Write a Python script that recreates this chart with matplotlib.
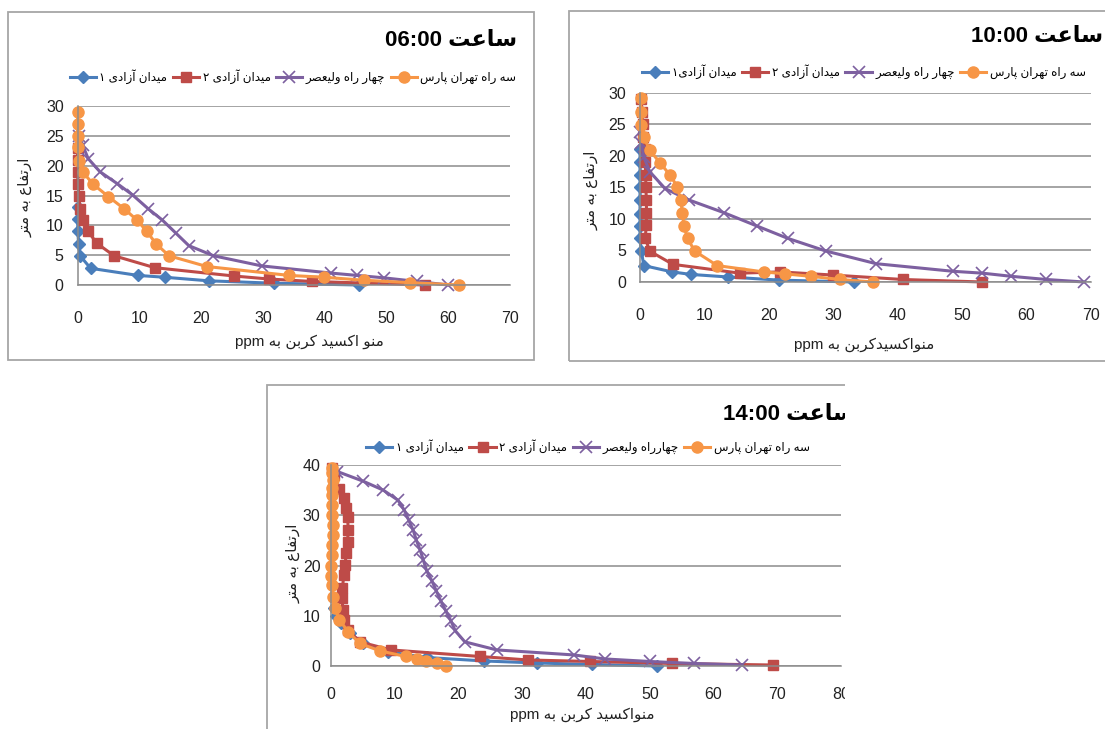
import matplotlib
matplotlib.use("Agg")
import matplotlib.pyplot as plt
from matplotlib.patches import Rectangle

plt.rcParams['font.family'] = ['Liberation Sans', 'DejaVu Sans']

# ---- data ----
series_names = ['میدان آزادی ۱', 'میدان آزادی ۲', 'چهار راه ولیعصر', 'سه راه تهران پارس']
series_names_10 = ['میدان آزادی۱', 'میدان آزادی ۲', 'چهار راه ولیعصر', 'سه راه تهران پارس']
series_names_14 = ['میدان آزادی ۱', 'میدان آزادی ۲', 'چهارراه ولیعصر', 'سه راه تهران پارس']

# 06:00
blue06_x = [45.5, 31.8, 21.2, 14.1, 9.8, 2.1, 0.4, 0.15, 0.05, 0.0, 0.0]
blue06_y = [0.0, 0.3, 0.7, 1.3, 1.6, 2.8, 4.9, 6.9, 9.0, 11.0, 13.0]
red06_x = [56.3, 37.9, 31.0, 25.4, 12.5, 5.9, 3.1, 1.7, 0.8, 0.4, 0.2, 0.05, 0.0, 0.0, 0.0]
red06_y = [0.0, 0.6, 1.0, 1.5, 2.9, 4.9, 7.0, 9.0, 10.9, 12.8, 15.0, 17.0, 19.0, 21.0, 23.0]
purple06_x = [60.0, 54.9, 49.6, 45.3, 41.0, 29.8, 22.0, 18.0, 15.9, 13.7, 11.4, 8.9, 6.4, 3.6, 1.7, 0.8, 0.2]
purple06_y = [0.0, 0.6, 1.2, 1.6, 2.0, 3.2, 4.9, 6.6, 8.7, 10.9, 12.8, 15.1, 17.0, 19.0, 21.2, 23.5, 25.0]
orange06_x = [61.8, 53.8, 46.3, 39.9, 34.3, 20.9, 14.8, 12.7, 11.2, 9.6, 7.5, 5.0, 2.5, 0.8, 0.3, 0.0, 0.0, 0.0, 0.0]
orange06_y = [0.0, 0.4, 0.8, 1.3, 1.6, 3.1, 4.9, 6.9, 9.0, 10.9, 12.8, 14.8, 16.9, 19.0, 20.7, 23.2, 24.9, 27.0, 29.0]

# 10:00
blue10_x = [33.2, 21.6, 13.6, 7.9, 5.0, 0.6, 0.2, 0.0, 0.0, 0.0, 0.0, 0.0, 0.0, 0.0, 0.0]
blue10_y = [0.0, 0.3, 0.8, 1.2, 1.6, 2.6, 4.9, 6.9, 8.9, 10.8, 13.0, 15.0, 17.0, 19.0, 21.0]
red10_x = [53.2, 40.8, 30.0, 21.8, 15.5, 5.1, 1.5, 0.8, 1.0, 1.0, 1.0, 0.9, 0.9, 0.8, 0.7, 0.5, 0.4, 0.3, 0.2]
red10_y = [0.0, 0.4, 1.1, 1.6, 1.4, 2.8, 4.9, 7.0, 9.0, 11.0, 13.0, 15.0, 17.0, 19.0, 21.0, 23.0, 25.0, 27.0, 29.0]
purple10_x = [69.0, 63.1, 57.7, 53.2, 48.6, 36.7, 28.9, 23.0, 18.1, 13.0, 7.6, 3.9, 1.5, 0.6, 0.2, 0.0]
purple10_y = [0.0, 0.4, 0.9, 1.4, 1.7, 2.9, 4.9, 6.9, 8.9, 11.0, 13.0, 14.8, 17.5, 19.8, 22.0, 23.8]
orange10_x = [36.2, 31.1, 26.5, 22.5, 19.2, 12.0, 8.5, 7.4, 6.8, 6.6, 6.3, 5.8, 4.7, 3.1, 1.5, 0.6, 0.2, 0.1, 0.1]
orange10_y = [0.0, 0.4, 0.9, 1.3, 1.6, 2.6, 4.9, 6.9, 8.9, 11.0, 13.0, 15.1, 16.9, 18.9, 20.9, 23.0, 24.9, 27.0, 29.1]

# 14:00
blue14_x = [51.2, 41.0, 32.3, 24.0, 15.0, 9.0, 5.0, 3.0, 1.5, 0.8, 0.5]
blue14_y = [0.0, 0.3, 0.6, 1.0, 1.7, 2.8, 4.5, 6.5, 8.5, 10.0, 11.5]
red14_x = [69.3, 53.5, 40.7, 30.9, 23.3, 9.4, 4.5, 2.7, 2.1, 1.9, 1.7, 1.8, 2.0, 2.2, 2.4, 2.6, 2.7, 2.6, 2.3, 2.0, 1.3, 0.4, 0.1]
red14_y = [0.2, 0.5, 0.9, 1.2, 1.9, 3.2, 4.8, 7.2, 9.2, 11.2, 13.5, 15.5, 18.1, 20.1, 22.4, 24.7, 27.1, 29.7, 31.4, 33.4, 35.3, 38.0, 39.5]
purple14_x = [64.5, 57.0, 50.0, 43.0, 38.1, 26.0, 21.0, 19.5, 18.8, 18.0, 17.2, 16.5, 15.8, 15.0, 14.5, 14.0, 13.4, 12.9, 12.2, 11.5, 10.5, 8.2, 5.0, 1.0]
purple14_y = [0.2, 0.5, 0.9, 1.4, 2.2, 3.2, 4.8, 7.0, 9.0, 11.0, 13.0, 15.0, 17.0, 19.0, 21.0, 23.0, 25.0, 27.0, 29.0, 31.0, 33.0, 35.0, 36.8, 38.7]
orange14_x = [18.1, 16.6, 14.9, 13.5, 11.7, 7.7, 4.5, 2.7, 1.3, 0.6, 0.3, 0.1, 0.0, 0.0, 0.1, 0.2, 0.3, 0.3, 0.2, 0.1, 0.1, 0.2, 0.3, 0.2, 0.1]
orange14_y = [0.0, 0.5, 0.9, 1.4, 1.9, 3.0, 4.5, 6.8, 9.2, 11.5, 13.8, 16.1, 18.0, 20.0, 22.0, 24.0, 26.0, 28.0, 30.0, 32.0, 34.0, 35.5, 37.0, 38.5, 39.5]

# ---- minimal persian shaping (matplotlib has no RTL layout) ----
FORMS = {
    '\u0627': ('\uFE8D', '\uFE8E', None, None),
    '\u0622': ('\uFE81', '\uFE82', None, None),
    '\u0628': ('\uFE8F', '\uFE90', '\uFE91', '\uFE92'),
    '\u067E': ('\uFB56', '\uFB57', '\uFB58', '\uFB59'),
    '\u062A': ('\uFE95', '\uFE96', '\uFE97', '\uFE98'),
    '\u0686': ('\uFB7A', '\uFB7B', '\uFB7C', '\uFB7D'),
    '\u062F': ('\uFEA9', '\uFEAA', None, None),
    '\u0631': ('\uFEAD', '\uFEAE', None, None),
    '\u0632': ('\uFEAF', '\uFEB0', None, None),
    '\u0633': ('\uFEB1', '\uFEB2', '\uFEB3', '\uFEB4'),
    '\u0635': ('\uFEB9', '\uFEBA', '\uFEBB', '\uFEBC'),
    '\u0639': ('\uFEC9', '\uFECA', '\uFECB', '\uFECC'),
    '\u0641': ('\uFED1', '\uFED2', '\uFED3', '\uFED4'),
    '\u06A9': ('\uFB8E', '\uFB8F', '\uFB90', '\uFB91'),
    '\u0644': ('\uFEDD', '\uFEDE', '\uFEDF', '\uFEE0'),
    '\u0645': ('\uFEE1', '\uFEE2', '\uFEE3', '\uFEE4'),
    '\u0646': ('\uFEE5', '\uFEE6', '\uFEE7', '\uFEE8'),
    '\u0647': ('\uFEE9', '\uFEEA', '\uFEEB', '\uFEEC'),
    '\u0648': ('\uFEED', '\uFEEE', None, None),
    '\u06CC': ('\uFBFC', '\uFBFD', '\uFBFE', '\uFBFF'),
}


def shape(word):
    word = word.replace('\u064A', '\u06CC').replace('\u0643', '\u06A9')
    out = []
    for i, ch in enumerate(word):
        f = FORMS.get(ch)
        if f is None:
            out.append(ch)
            continue
        prev = FORMS.get(word[i - 1]) if i > 0 else None
        nxt = FORMS.get(word[i + 1]) if i < len(word) - 1 else None
        jp = prev is not None and prev[2] is not None
        jn = nxt is not None and f[2] is not None
        if jp and jn:
            out.append(f[3])
        elif jn:
            out.append(f[2])
        elif jp:
            out.append(f[1])
        else:
            out.append(f[0])
    return ''.join(out)


def fa(text):
    vis = []
    for w in reversed(text.split(' ')):
        if any(c in FORMS or c in '\u064A\u0643' for c in w):
            vis.append(shape(w)[::-1])
        else:
            vis.append(w)
    return ' '.join(vis)


# ---- layout helpers (pixels -> figure fraction) ----
W, H = 1105, 729
fig = plt.figure(figsize=(W / 100, H / 100), dpi=100)


def fx(x):
    return x / W


def fy(y):
    return 1 - y / H


colors = ['#4A7EBB', '#BE4B48', '#7D60A0', '#F79646']
styles = [dict(marker='D', ms=6.5),
          dict(marker='s', ms=7.5),
          dict(marker='x', ms=8, mew=1.2),
          dict(marker='o', ms=8)]
grid_c = '#8C8C8C'
text_c = '#222222'

panels = [
    dict(box=(8, 12, 534, 360), ax=(77.6, 106, 510, 285), xmax=70, ymax=30,
         title='ساعت 06:00', title_xy=(517, 40),
         names=series_names, leg=(293, 77),
         xlabel='منو اکسید کربن به ppm', xlab_xy=(309, 342), ylab_xy=(26, 197),
         xpad=19, ypad=10,
         data=[(blue06_x, blue06_y), (red06_x, red06_y), (purple06_x, purple06_y), (orange06_x, orange06_y)]),
    dict(box=(569, 11, 1130, 361), ax=(640, 92.7, 1090.6, 282), xmax=70, ymax=30,
         title='ساعت 10:00', title_xy=(1103, 37),
         names=series_names_10, leg=(864, 72),
         xlabel='منواکسیدکربن به ppm', xlab_xy=(864, 345), ylab_xy=(591, 190),
         xpad=19, ypad=10,
         data=[(blue10_x, blue10_y), (red10_x, red10_y), (purple10_x, purple10_y), (orange10_x, orange10_y)]),
    dict(box=(267, 385, 900, 760), ax=(331, 465, 841, 666), xmax=80, ymax=40,
         title='ساعت 14:00', title_xy=(855, 415),
         names=series_names_14, leg=(588, 447),
         xlabel='منواکسید کربن به ppm', xlab_xy=(582, 715), ylab_xy=(293, 563),
         xpad=15, ypad=7.5,
         data=[(blue14_x, blue14_y), (red14_x, red14_y), (purple14_x, purple14_y), (orange14_x, orange14_y)]),
]

for p in panels:
    bx0, by0, bx1, by1 = p['box']
    fig.add_artist(Rectangle((fx(bx0), fy(by1)), fx(bx1 - bx0), (by1 - by0) / H,
                             transform=fig.transFigure, fill=False,
                             ec='#A6A6A6', lw=1.3, zorder=1))

    l, t, r, b = p['ax']
    ax = fig.add_axes([fx(l), fy(b), fx(r - l), (b - t) / H])
    for (xs, ys), c, st in zip(p['data'], colors, styles):
        ax.plot(xs, ys, color=c, lw=2.2, clip_on=False, **st)
    ax.set_xlim(0, p['xmax'])
    ax.set_ylim(0, p['ymax'])
    ax.set_xticks(range(0, p['xmax'] + 1, 10))
    ax.set_yticks(range(0, p['ymax'] + 1, 5 if p['ymax'] == 30 else 10))
    ax.yaxis.grid(True, color=grid_c, lw=1.1)
    ax.set_axisbelow(True)
    for s in ['top', 'right']:
        ax.spines[s].set_visible(False)
    for s in ['left', 'bottom']:
        ax.spines[s].set_color(grid_c)
        ax.spines[s].set_linewidth(1.1)
    ax.tick_params(axis='x', length=0, pad=p['xpad'], labelsize=11.5, labelcolor=text_c)
    ax.tick_params(axis='y', length=0, pad=p['ypad'], labelsize=11.5, labelcolor=text_c)

    ax.legend([fa(n) for n in p['names']], loc='center',
              bbox_to_anchor=(fx(p['leg'][0]), fy(p['leg'][1])),
              bbox_transform=fig.transFigure, ncol=4, frameon=False,
              fontsize=8.6, handlelength=2.2, handletextpad=0.3,
              columnspacing=0.45, borderaxespad=0, borderpad=0)

    fig.text(fx(p['title_xy'][0]), fy(p['title_xy'][1]), fa(p['title']),
             ha='right', va='center', fontsize=16, fontweight='bold', color='black')
    fig.text(fx(p['xlab_xy'][0]), fy(p['xlab_xy'][1]), fa(p['xlabel']),
             ha='center', va='center', fontsize=11, color=text_c)
    fig.text(fx(p['ylab_xy'][0]), fy(p['ylab_xy'][1]), fa('ارتفاع به متر'),
             ha='center', va='center', rotation=90, fontsize=11, color=text_c)

# the bottom chart is cut off on its right side in the source
fig.add_artist(Rectangle((fx(845), 0), 1 - fx(845), fy(372), transform=fig.transFigure,
                         fc='white', ec='none', zorder=10))

fig.savefig('out.png', dpi=100, facecolor='white')
